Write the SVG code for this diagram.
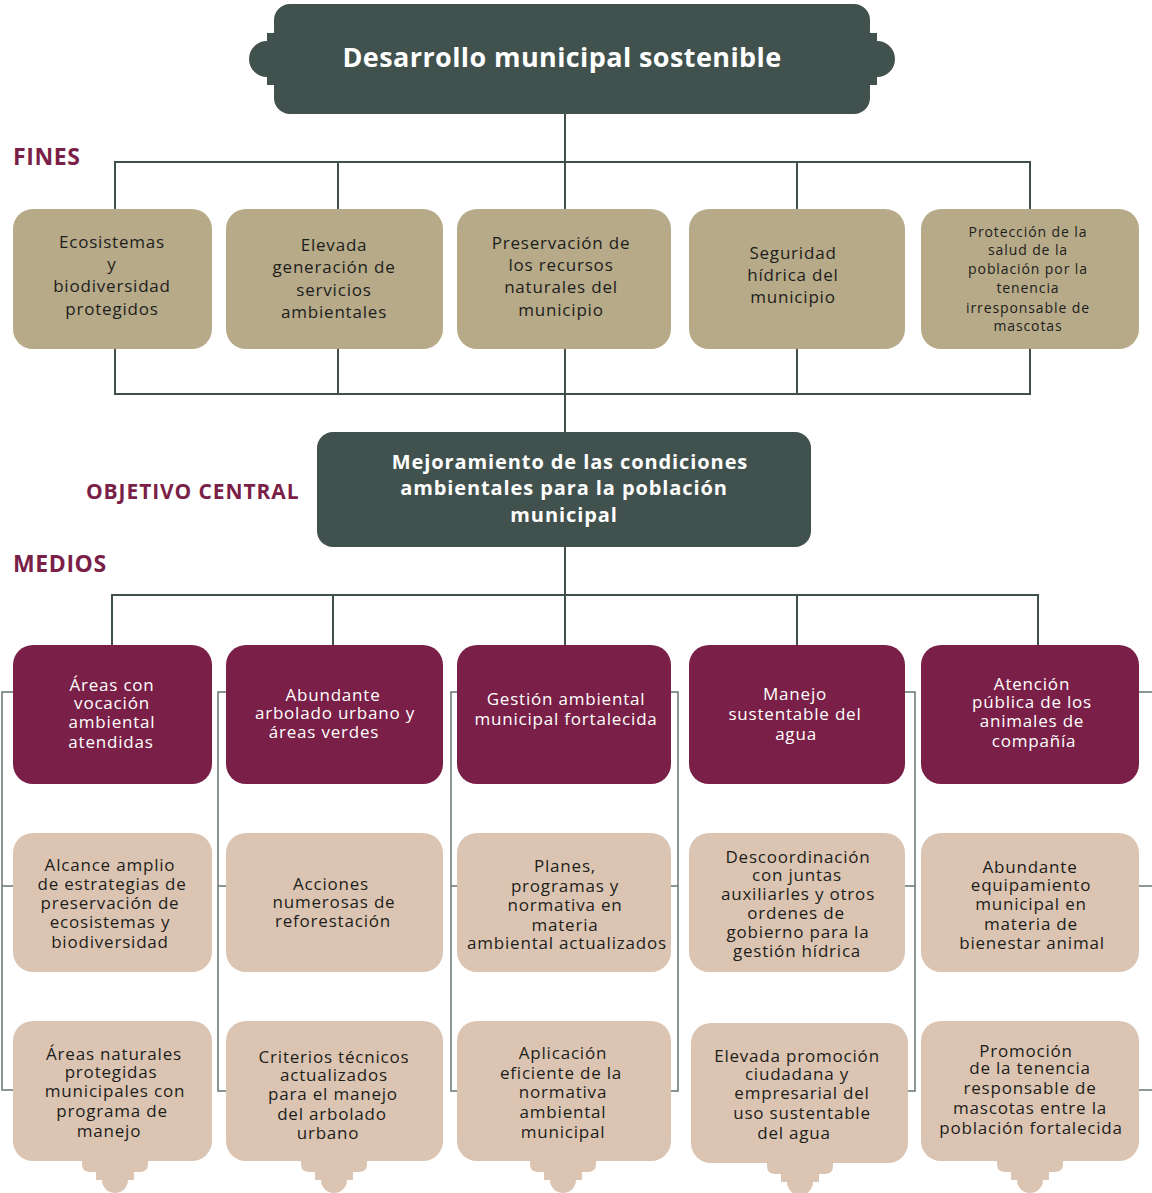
<svg xmlns="http://www.w3.org/2000/svg" width="1152" height="1193" viewBox="0 0 1152 1193">
<style>
.fin{fill:#b6aa89}
.med{fill:#7a1f47}
.sub{fill:#dbc5b2}
.dk{fill:#41524e}
.t{font-family:"Open Sans","Noto Sans",sans-serif;font-size:17px;letter-spacing:0.8px;text-anchor:middle;fill:#1d1d1b}
.tw{font-family:"Open Sans","Noto Sans",sans-serif;font-size:17px;letter-spacing:0.8px;text-anchor:middle;fill:#ffffff}
.ts{font-size:14px;letter-spacing:0.9px}
.hd{font-family:"Open Sans","Noto Sans",sans-serif;font-weight:700;fill:#ffffff;text-anchor:middle}
.lbl{font-family:"Open Sans","Noto Sans",sans-serif;font-weight:700;fill:#7a1f47}
.c1{fill:none;stroke:#3f4f4b;stroke-width:2}
.c2{fill:none;stroke:#66766f;stroke-width:1.5}
</style>
<g id="connectors">
<path class="c1" d="M565 114V209M115 209V162H1030V209M338 162V209M797 162V209"/>
<path class="c1" d="M115 349V394H1030V349M338 349V394M565 349V432M797 349V394"/>
<path class="c1" d="M565 547V645M112 645V595H1038V645M333 595V645M797 595V645"/>
<path class="c2" d="M13 692H2V1090H13M2 886H13"/>
<path class="c2" d="M226 692H218V1091H226M218 886H226"/>
<path class="c2" d="M457 692H451V1091H457M451 886H457"/>
<path class="c2" d="M671 692H678V1091H671M678 886H671"/>
<path class="c2" d="M905 692H915V1091H905M915 886H905"/>
<path class="c2" d="M1139 692H1152M1139 886H1152M1139 1090H1152"/>
</g>
<g id="title">
<path class="dk" d="M290 4H854A16 16 0 0 1 870 20V33H877V41A18 18 0 0 1 877 77V85H870V98A16 16 0 0 1 854 114H290A16 16 0 0 1 274 98V85H267V77A18 18 0 0 1 267 41V33H274V20A16 16 0 0 1 290 4Z"/>
<text class="hd" x="562" y="67" font-size="27" letter-spacing="0.4">Desarrollo municipal sostenible</text>
</g>
<g id="lbl-fines"><text class="lbl" x="13" y="165" font-size="23" letter-spacing="0.6">FINES</text></g>
<g id="lbl-objetivo"><text class="lbl" x="86" y="499" font-size="21" letter-spacing="0.9">OBJETIVO CENTRAL</text></g>
<g id="lbl-medios"><text class="lbl" x="13" y="572" font-size="23" letter-spacing="0.6">MEDIOS</text></g>

<g id="fin1"><rect class="fin" x="13" y="209" width="199" height="140" rx="20"/>
<text class="t"><tspan x="112" y="248">Ecosistemas</tspan><tspan x="112" y="270">y</tspan><tspan x="112" y="292">biodiversidad</tspan><tspan x="112" y="315">protegidos</tspan></text></g>
<g id="fin2"><rect class="fin" x="226" y="209" width="217" height="140" rx="20"/>
<text class="t"><tspan x="334" y="251">Elevada</tspan><tspan x="334" y="273">generación de</tspan><tspan x="334" y="296">servicios</tspan><tspan x="334" y="318">ambientales</tspan></text></g>
<g id="fin3"><rect class="fin" x="457" y="209" width="214" height="140" rx="20"/>
<text class="t"><tspan x="561" y="249">Preservación de</tspan><tspan x="561" y="271">los recursos</tspan><tspan x="561" y="293">naturales del</tspan><tspan x="561" y="316">municipio</tspan></text></g>
<g id="fin4"><rect class="fin" x="689" y="209" width="216" height="140" rx="20"/>
<text class="t"><tspan x="793" y="259">Seguridad</tspan><tspan x="793" y="281">hídrica del</tspan><tspan x="793" y="303">municipio</tspan></text></g>
<g id="fin5"><rect class="fin" x="921" y="209" width="218" height="140" rx="20"/>
<text class="t ts"><tspan x="1028" y="237">Protección de la</tspan><tspan x="1028" y="255">salud de la</tspan><tspan x="1028" y="274">población por la</tspan><tspan x="1028" y="293">tenencia</tspan><tspan x="1028" y="313">irresponsable de</tspan><tspan x="1028" y="331">mascotas</tspan></text></g>

<g id="objetivo"><rect class="dk" x="317" y="432" width="494" height="115" rx="16"/>
<text class="hd" font-size="20" letter-spacing="0.9"><tspan x="570" y="469">Mejoramiento de las condiciones</tspan><tspan x="564" y="495">ambientales para la población</tspan><tspan x="564" y="522">municipal</tspan></text></g>

<g id="m1"><rect class="med" x="13" y="645" width="199" height="139" rx="20"/>
<text class="tw"><tspan x="112" y="691">Áreas con</tspan><tspan x="112" y="709">vocación</tspan><tspan x="112" y="728">ambiental</tspan><tspan x="111" y="748">atendidas</tspan></text></g>
<g id="m2"><rect class="med" x="226" y="645" width="217" height="139" rx="20"/>
<text class="tw"><tspan x="333" y="701">Abundante</tspan><tspan x="335" y="719">arbolado urbano y</tspan><tspan x="324" y="738">áreas verdes</tspan></text></g>
<g id="m3"><rect class="med" x="457" y="645" width="214" height="139" rx="20"/>
<text class="tw"><tspan x="566" y="705">Gestión ambiental</tspan><tspan x="566" y="725">municipal fortalecida</tspan></text></g>
<g id="m4"><rect class="med" x="689" y="645" width="216" height="139" rx="20"/>
<text class="tw"><tspan x="795" y="700">Manejo</tspan><tspan x="795" y="720">sustentable del</tspan><tspan x="796" y="740">agua</tspan></text></g>
<g id="m5"><rect class="med" x="921" y="645" width="218" height="139" rx="20"/>
<text class="tw"><tspan x="1032" y="690">Atención</tspan><tspan x="1032" y="708">pública de los</tspan><tspan x="1032" y="727">animales de</tspan><tspan x="1034" y="747">compañía</tspan></text></g>

<g id="s1a"><rect class="sub" x="13" y="833" width="199" height="139" rx="20"/>
<text class="t"><tspan x="110" y="871">Alcance amplio</tspan><tspan x="112" y="890">de estrategias de</tspan><tspan x="110" y="909">preservación de</tspan><tspan x="110" y="928">ecosistemas y</tspan><tspan x="110" y="948">biodiversidad</tspan></text></g>
<g id="s2a"><rect class="sub" x="226" y="833" width="217" height="139" rx="20"/>
<text class="t"><tspan x="331" y="890">Acciones</tspan><tspan x="334" y="908">numerosas de</tspan><tspan x="333" y="927">reforestación</tspan></text></g>
<g id="s3a"><rect class="sub" x="457" y="833" width="214" height="139" rx="20"/>
<text class="t"><tspan x="565" y="872">Planes,</tspan><tspan x="565" y="892">programas y</tspan><tspan x="565" y="911">normativa en</tspan><tspan x="565" y="931">materia</tspan><tspan x="567" y="949">ambiental actualizados</tspan></text></g>
<g id="s4a"><rect class="sub" x="689" y="833" width="216" height="139" rx="20"/>
<text class="t"><tspan x="798" y="863">Descoordinación</tspan><tspan x="797" y="881">con juntas</tspan><tspan x="798" y="900">auxiliarles y otros</tspan><tspan x="796" y="919">ordenes de</tspan><tspan x="798" y="938">gobierno para la</tspan><tspan x="797" y="957">gestión hídrica</tspan></text></g>
<g id="s5a"><rect class="sub" x="921" y="833" width="218" height="139" rx="20"/>
<text class="t"><tspan x="1030" y="873">Abundante</tspan><tspan x="1031" y="891">equipamiento</tspan><tspan x="1031" y="910">municipal en</tspan><tspan x="1031" y="930">materia de</tspan><tspan x="1032" y="949">bienestar animal</tspan></text></g>

<g id="s1b"><path class="sub" d="M82 1158V1164Q82 1172 90 1172H96V1180H102A13 13 0 0 0 128 1180H134V1172H140Q148 1172 148 1164V1158Z"/><rect class="sub" x="13" y="1021" width="199" height="140" rx="20"/>
<text class="t"><tspan x="114" y="1060">Áreas naturales</tspan><tspan x="111" y="1078">protegidas</tspan><tspan x="115" y="1097">municipales con</tspan><tspan x="112" y="1117">programa de</tspan><tspan x="109" y="1137">manejo</tspan></text></g>
<g id="s2b"><path class="sub" d="M301 1158V1164Q301 1172 309 1172H315V1180H321A13 13 0 0 0 347 1180H353V1172H359Q367 1172 367 1164V1158Z"/><rect class="sub" x="226" y="1021" width="217" height="140" rx="20"/>
<text class="t"><tspan x="334" y="1063">Criterios técnicos</tspan><tspan x="334" y="1081">actualizados</tspan><tspan x="333" y="1100">para el manejo</tspan><tspan x="332" y="1120">del arbolado</tspan><tspan x="328" y="1139">urbano</tspan></text></g>
<g id="s3b"><path class="sub" d="M530 1158V1164Q530 1172 538 1172H544V1180H550A13 13 0 0 0 576 1180H582V1172H588Q596 1172 596 1164V1158Z"/><rect class="sub" x="457" y="1021" width="214" height="140" rx="20"/>
<text class="t"><tspan x="563" y="1059">Aplicación</tspan><tspan x="561" y="1079">eficiente de la</tspan><tspan x="563" y="1098">normativa</tspan><tspan x="563" y="1118">ambiental</tspan><tspan x="563" y="1138">municipal</tspan></text></g>
<g id="s4b"><path class="sub" d="M767 1160V1166Q767 1174 775 1174H781V1182H787A13 13 0 0 0 813 1182H819V1174H825Q833 1174 833 1166V1160Z"/><rect class="sub" x="691" y="1023" width="217" height="140" rx="20"/>
<text class="t"><tspan x="797" y="1062">Elevada promoción</tspan><tspan x="797" y="1080">ciudadana y</tspan><tspan x="802" y="1099">empresarial del</tspan><tspan x="802" y="1119">uso sustentable</tspan><tspan x="794" y="1139">del agua</tspan></text></g>
<g id="s5b"><path class="sub" d="M997 1158V1164Q997 1172 1005 1172H1011V1180H1017A13 13 0 0 0 1043 1180H1049V1172H1055Q1063 1172 1063 1164V1158Z"/><rect class="sub" x="921" y="1021" width="218" height="140" rx="20"/>
<text class="t"><tspan x="1026" y="1057">Promoción</tspan><tspan x="1030" y="1074">de la tenencia</tspan><tspan x="1030" y="1094">responsable de</tspan><tspan x="1030" y="1114">mascotas entre la</tspan><tspan x="1031" y="1134">población fortalecida</tspan></text></g>
</svg>
